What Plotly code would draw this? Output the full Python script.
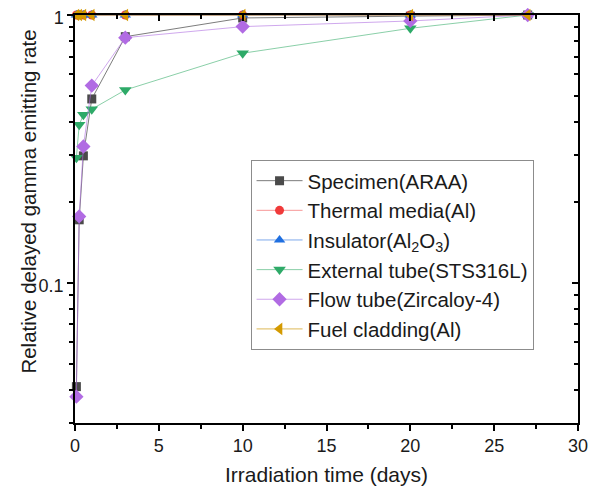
import plotly.graph_objects as go

# =============================================================================
# DATA
# =============================================================================
DAYS = [0.083, 0.25, 0.5, 1, 3, 10, 20, 27]

SPECIMEN = [0.041, 0.172, 0.298, 0.486, 0.83, 0.975, 0.99, 1.0]
THERMAL_MEDIA = [1.0, 1.0, 1.0, 1.0, 1.0, 1.0, 1.0, 1.0]
INSULATOR = [1.0, 1.0, 1.0, 1.0, 1.0, 1.0, 1.0, 1.0]
EXTERNAL_TUBE = [0.293, 0.389, 0.424, 0.445, 0.525, 0.72, 0.892, 1.0]
FLOW_TUBE = [0.0376, 0.177, 0.323, 0.545, 0.823, 0.905, 0.95, 1.0]
FUEL_CLADDING = [1.0, 1.0, 1.0, 1.0, 1.0, 1.0, 1.0, 1.0]

SERIES_NAMES = [
    "Specimen(ARAA)",
    "Thermal media(Al)",
    "Insulator(Al<sub>2</sub>O<sub>3</sub>)",
    "External tube(STS316L)",
    "Flow tube(Zircaloy-4)",
    "Fuel cladding(Al)",
]

Y_TICKS = [0.1, 1]
Y_TICK_TEXT = ["0.1", "1"]
X_TICKS = [0, 5, 10, 15, 20, 25, 30]

# =============================================================================
# STYLE
# =============================================================================
FONT = "Liberation Sans, Arial, sans-serif"
STYLES = [
    # marker color, line color, symbol, size
    ("#4a4a4a", "rgba(80,80,80,0.75)", "square", 9),
    ("#f03a3a", "rgba(240,80,80,0.6)", "circle", 9),
    ("#1f6fe0", "rgba(40,110,220,0.6)", "triangle-up", 10),
    ("#2eaa68", "rgba(60,175,110,0.6)", "triangle-down", 11),
    ("#b16be3", "rgba(175,110,225,0.6)", "diamond", 11),
    ("#d49a00", "rgba(210,160,30,0.75)", "triangle-left", 11),
]

series = [SPECIMEN, THERMAL_MEDIA, INSULATOR, EXTERNAL_TUBE, FLOW_TUBE, FUEL_CLADDING]

fig = go.Figure()
for name, ys, (mc, lc, sym, sz) in zip(SERIES_NAMES, series, STYLES):
    fig.add_trace(go.Scatter(
        x=DAYS, y=ys, name=name, mode="lines+markers",
        line=dict(color=lc, width=1),
        marker=dict(color=mc, symbol=sym, size=sz, line=dict(width=0)),
        cliponaxis=False,
    ))

# invisible trace so the mirrored (inward-tick) axes get drawn
fig.add_trace(go.Scatter(x=[None], y=[None], xaxis="x2", yaxis="y2",
                         showlegend=False, hoverinfo="skip"))

axis_common = dict(linecolor="black", linewidth=1.5, tickcolor="black",
                   showgrid=False, zeroline=False, automargin=False,
                   ticklabeloverflow="allow")

# page body keeps an 8px margin, so the figure is drawn 8px smaller
fig.update_layout(
    width=590, height=480,
    margin=dict(l=67, r=20, t=7, b=65),
    paper_bgcolor="white", plot_bgcolor="white",
    font=dict(family=FONT, size=18, color="#1a1a1a"),
    showlegend=True,
    legend=dict(
        x=0.349, y=0.645, xanchor="left", yanchor="top",
        bordercolor="#8c8c8c", borderwidth=1, bgcolor="white",
        font=dict(size=20.5), tracegroupgap=0, itemwidth=46,
    ),
    xaxis=dict(
        **axis_common, range=[0, 30], tickvals=X_TICKS,
        ticks="outside", ticklen=6, tickwidth=1.5,
        minor=dict(ticks="outside", ticklen=4, dtick=2.5, tick0=0, tickcolor="black"),
        title=dict(text="Irradiation time (days)", font=dict(size=21), standoff=12),
    ),
    yaxis=dict(
        **axis_common, type="log", range=[-1.523, 0],
        tickvals=Y_TICKS, ticktext=Y_TICK_TEXT, ticklabelshift=3,
        ticks="outside", ticklen=6, tickwidth=1.5,
        minor=dict(ticks="outside", ticklen=4, dtick="D1", tickcolor="black"),
    ),
    xaxis2=dict(
        **axis_common, overlaying="x", side="top", anchor="y", matches="x",
        range=[0, 30], tickvals=X_TICKS, showticklabels=False,
        ticks="inside", ticklen=6, tickwidth=1.5,
        minor=dict(ticks="inside", ticklen=4, dtick=2.5, tick0=0, tickcolor="black"),
    ),
    yaxis2=dict(
        **axis_common, overlaying="y", side="right", anchor="x", type="log",
        range=[-1.523, 0], tickvals=Y_TICKS, showticklabels=False,
        ticks="inside", ticklen=6, tickwidth=1.5,
        minor=dict(ticks="inside", ticklen=4, dtick="D1", tickcolor="black"),
    ),
    annotations=[dict(
        text="Relative delayed gamma emitting rate", textangle=-90,
        xref="paper", yref="paper", x=-0.092, y=0.542,
        xanchor="center", yanchor="middle", showarrow=False,
        font=dict(size=20.5),
    )],
)

fig.write_html("out.html")
